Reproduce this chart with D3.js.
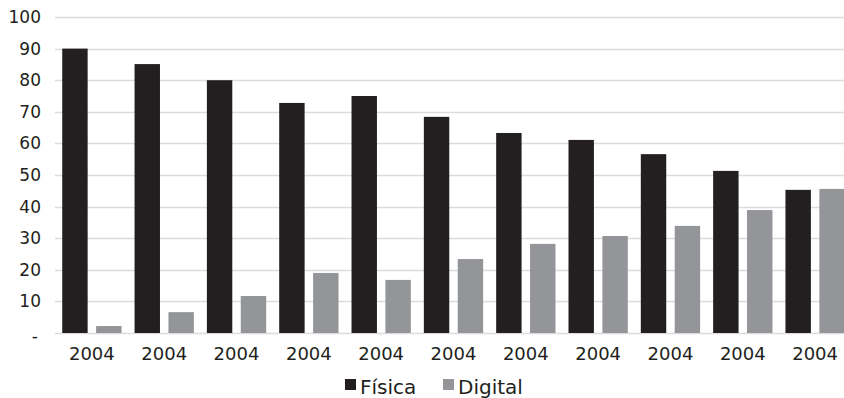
<!DOCTYPE html>
<html>
<head>
<meta charset="utf-8">
<script src="https://cdn.jsdelivr.net/npm/d3@7"></script>
<style>
  body { margin: 0; background: #fff; }
  text { font-family: "DejaVu Sans", sans-serif; fill: #231f20; }
</style>
</head>
<body>
<script>
const categories = ['2004', '2004', '2004', '2004', '2004', '2004', '2004', '2004', '2004', '2004', '2004'];
const fisica = [90, 85.1, 80, 72.8, 75, 68.4, 63.3, 61.1, 56.6, 51.3, 45.3];
const digital = [2.2, 6.6, 11.7, 19, 16.8, 23.4, 28.2, 30.7, 33.9, 38.9, 45.6];
const series = ['Física', 'Digital'];
const yTicks = [0, 10, 20, 30, 40, 50, 60, 70, 80, 90, 100];

const width = 844, height = 398;
const colors = { 'Física': '#231f20', 'Digital': '#939598' };

const rows = categories.map((c, i) => ({ i, cat: c, vals: [
  { key: 'Física', v: fisica[i] },
  { key: 'Digital', v: digital[i] }
]}));

const svg = d3.select(document.body).append('svg')
  .attr('width', width)
  .attr('height', height);

const y = d3.scaleLinear().domain([0, 100]).range([333, 17]);
const x0 = d3.scaleBand()
  .domain(d3.range(categories.length))
  .range([55, 852])
  .paddingInner(0.18)
  .paddingOuter(0.1);
const x1 = d3.scaleBand()
  .domain(series)
  .range([0, x0.bandwidth()])
  .paddingInner(0.25);

// gridlines
svg.append('g')
  .selectAll('line')
  .data(yTicks)
  .join('line')
  .attr('x1', 55)
  .attr('x2', width)
  .attr('y1', d => Math.round(y(d)) + 0.5)
  .attr('y2', d => Math.round(y(d)) + 0.5)
  .attr('stroke', '#dcdcdc')
  .attr('stroke-width', 1.5);

// y labels (zero shown as a dash, sitting a little lower)
svg.append('g')
  .selectAll('text')
  .data(yTicks)
  .join('text')
  .attr('x', d => d === 0 ? 38 : 41)
  .attr('y', d => y(d) + (d === 0 ? 9 : 6))
  .attr('text-anchor', 'end')
  .style('font-size', '17px')
  .text(d => d === 0 ? '-' : d);

// bars
const groups = svg.append('g')
  .selectAll('g')
  .data(rows)
  .join('g')
  .attr('transform', d => `translate(${x0(d.i)},0)`);

groups.selectAll('rect')
  .data(d => d.vals)
  .join('rect')
  .attr('x', d => x1(d.key))
  .attr('width', x1.bandwidth())
  .attr('y', d => y(d.v))
  .attr('height', d => y(0) - y(d.v))
  .attr('fill', d => colors[d.key]);

// x labels
svg.append('g')
  .selectAll('text')
  .data(rows)
  .join('text')
  .attr('x', d => x0(d.i) + x0.bandwidth() / 2)
  .attr('y', 360)
  .attr('text-anchor', 'middle')
  .style('font-size', '18px')
  .text(d => d.cat);

// legend
const legend = svg.append('g');
const legendPos = [{ key: 'Física', x: 345 }, { key: 'Digital', x: 443 }];
legend.selectAll('rect')
  .data(legendPos)
  .join('rect')
  .attr('x', d => d.x)
  .attr('y', 379)
  .attr('width', 11)
  .attr('height', 11)
  .attr('fill', d => colors[d.key]);
legend.selectAll('text')
  .data(legendPos)
  .join('text')
  .attr('x', d => d.x + 15)
  .attr('y', 394)
  .style('font-size', '20px')
  .text(d => d.key);
</script>
</body>
</html>
